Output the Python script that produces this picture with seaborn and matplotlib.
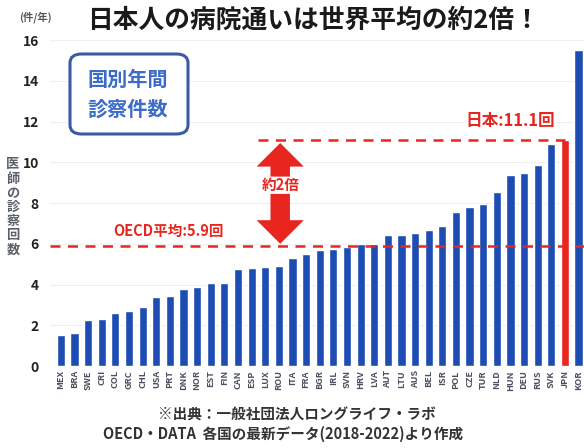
import matplotlib
matplotlib.use("Agg")
import matplotlib.pyplot as plt
import seaborn as sns
import pandas as pd
from matplotlib.patches import FancyBboxPatch

countries = ["MEX", "BRA", "SWE", "CRI", "COL", "GRC", "CHL", "USA", "PRT", "DNK",
             "NOR", "EST", "FIN", "CAN", "ESP", "LUX", "ROU", "ITA", "FRA", "BGR",
             "IRL", "SVN", "HRV", "LVA", "AUT", "LTU", "AUS", "BEL", "ISR", "POL",
             "CZE", "TUR", "NLD", "HUN", "DEU", "RUS", "SVK", "JPN", "KOR"]
visits = [1.5, 1.6, 2.25, 2.3, 2.6, 2.7, 2.9, 3.4, 3.45, 3.8,
          3.9, 4.1, 4.1, 4.75, 4.8, 4.85, 4.9, 5.3, 5.5, 5.7,
          5.75, 5.85, 6.0, 6.0, 6.45, 6.45, 6.55, 6.7, 6.85, 7.55,
          7.8, 7.95, 8.55, 9.4, 9.5, 9.85, 10.9, 11.1, 15.5]
oecd_avg = 5.9
japan_val = 11.1
yticks = [0, 2, 4, 6, 8, 10, 12, 14, 16]

BLUE = "#1d4cb3"
RED = "#e8261f"

sns.set_theme(style="white")
plt.rcParams["font.family"] = ["Noto Sans CJK JP", "DejaVu Sans"]

fig = plt.figure(figsize=(5.84, 4.48), dpi=100)
W, H = 584, 448
ax = fig.add_axes([50 / W, 1 - 366 / H, 1 - 50 / W, (366 - 32) / H])

df = pd.DataFrame({"country": countries, "visits": visits})
palette = {c: (RED if c == "JPN" else BLUE) for c in countries}
sns.barplot(data=df, x="country", y="visits", hue="country", palette=palette,
            legend=False, width=0.6, ax=ax, saturation=1)

ax.set_xlim(-0.8, 38.4)
ax.set_ylim(0, 16.4)
ax.set_yticks(yticks)
ax.set_yticklabels([str(v) for v in yticks], fontsize=10, fontweight="bold", color="#222222")
ax.tick_params(axis="y", pad=8, length=0)
ax.tick_params(axis="x", length=0, pad=3)
ax.set_xticks(range(len(countries)))
ax.set_xticklabels(countries, rotation=90, fontsize=6.5, fontweight="bold", color="#4a5060")
ax.set_xlabel("")
ax.set_ylabel("")
for s in ax.spines.values():
    s.set_visible(False)
ax.grid(axis="y", color="#f0f0f0", lw=0.8)
ax.set_axisbelow(True)

# reference lines
ax.axhline(oecd_avg, xmin=0, xmax=1, color=RED, ls=(0, (4, 3)), lw=1.8, zorder=3, clip_on=False)
ax.plot([14.5, 37.0], [japan_val, japan_val], color=RED, ls=(0, (4, 3)), lw=1.8, zorder=3)

# double arrow
ax_x = 16.1
arrow_style = "simple,head_length=17,head_width=34,tail_width=14"
ax.annotate("", xy=(ax_x, 10.95), xytext=(ax_x, 9.3),
            arrowprops=dict(arrowstyle=arrow_style, mutation_scale=1, color=RED,
                            shrinkA=0, shrinkB=0, lw=0), zorder=4)
ax.annotate("", xy=(ax_x, 6.0), xytext=(ax_x, 8.45),
            arrowprops=dict(arrowstyle=arrow_style, mutation_scale=1, color=RED,
                            shrinkA=0, shrinkB=0, lw=0), zorder=4)
ax.text(ax_x, 8.87, "約2倍", color=RED, fontsize=10.5, fontweight="bold",
        ha="center", va="center", zorder=5)

ax.text(7.9, 6.65, "OECD平均:5.9回", color=RED, fontsize=10.5, fontweight="bold",
        ha="center", va="center", zorder=5,
        bbox=dict(facecolor="white", edgecolor="none", pad=0.5))
ax.text(33.0, 12.05, "日本:11.1回", color=RED, fontsize=12, fontweight="bold",
        ha="center", va="center", zorder=5,
        bbox=dict(facecolor="white", edgecolor="none", pad=0.5))

# title
fig.text(313 / W, 1 - 20 / H, "日本人の病院通いは世界平均の約2倍！", fontsize=18.5,
         fontweight="bold", color="#1a1a1a", ha="center", va="center")

# unit label
fig.text(35 / W, 1 - 17 / H, "(件/年)", fontsize=7.5, fontweight="bold",
         color="#555555", ha="center", va="center")
fig.text(13 / W, 1 - 207 / H, "\n".join("医師の診察回数"), fontsize=9.5,
         fontweight="bold", color="#5a5f6a", ha="center", va="center", linespacing=1.02)

# box
box = FancyBboxPatch((70 / W, 1 - 134 / H), 118 / W, 80 / H,
                     boxstyle="round,pad=0,rounding_size=0.02",
                     transform=fig.transFigure, facecolor="white",
                     edgecolor="#3a5aa8", lw=2.2, zorder=10)
fig.patches.append(box)
fig.text(128 / W, 1 - 94 / H, "国別年間\n診察件数", fontsize=14.5, color="#3a6cc8",
         fontweight="bold", ha="center", va="center", linespacing=1.5, zorder=11)

# source
fig.text(297 / W, 1 - 415 / H, "※出典：一般社団法人ロングライフ・ラボ", fontsize=10.5,
         fontweight="bold", color="#333333", ha="center", va="center")
fig.text(283 / W, 1 - 434 / H, "OECD・DATA  各国の最新データ(2018-2022)より作成", fontsize=10.5,
         fontweight="bold", color="#333333", ha="center", va="center")

fig.savefig("out.png", dpi=100)
